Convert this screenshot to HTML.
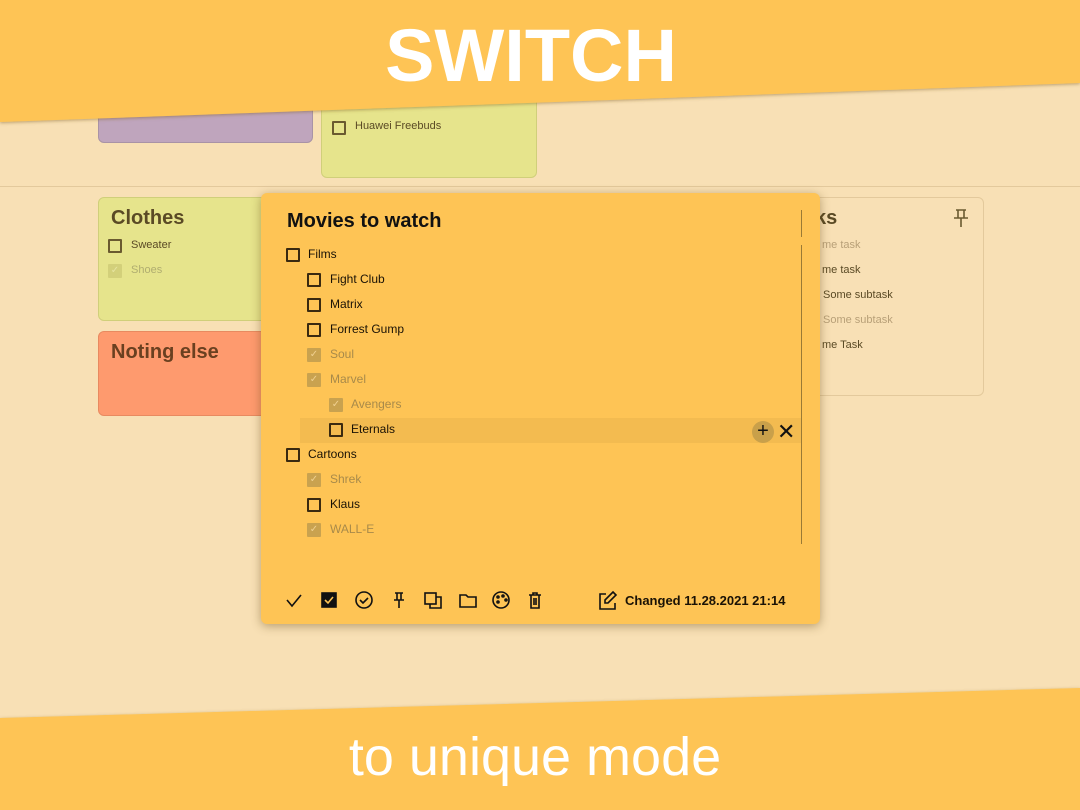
<!DOCTYPE html>
<html><head><style>
*{margin:0;padding:0;box-sizing:border-box}
body{width:1080px;height:810px;background:#F8E0B5;position:relative;overflow:hidden;font-family:"Liberation Sans","DejaVu Sans",sans-serif}
.abs{position:absolute}
.card{position:absolute;border-radius:6px}
.cb{position:absolute;width:14px;height:14px;border:2px solid #3a2a10;border-radius:1px}
.cbc{position:absolute;width:14px;height:14px;background:#c9a24f;border-radius:1px;color:#f0d090;font-size:10px;line-height:14px;text-align:center}
.t{position:absolute;font-size:12px;color:#1a1205;white-space:nowrap}
.g{color:#a88a4a}
</style></head><body>
<div class="card" style="left:98px;top:100px;width:215px;height:43px;background:#BFA5BD;border:1px solid #a993a6"></div>
<div class="card" style="left:321px;top:90px;width:216px;height:88px;background:#E6E48C;border:1px solid #d0cf7a"></div>
<div class="cb" style="left:332px;top:121px;border-color:#6a5a30"></div>
<div class="t" style="left:355px;top:120px;font-size:11px;color:#5a4a25">Huawei Freebuds</div>
<div class="abs" style="left:0;top:186px;width:1080px;height:1px;background:#e3c99c"></div>
<div class="card" style="left:98px;top:197px;width:180px;height:124px;background:#E6E48C;border:1px solid #d0cf7a"></div>
<div class="t" style="left:111px;top:207px;font-size:20px;font-weight:bold;color:#5a4a25">Clothes</div>
<div class="cb" style="left:108px;top:239px;border-color:#6a5a30"></div>
<div class="t" style="left:131px;top:239px;font-size:11px;color:#5a4a25">Sweater</div>
<div class="cbc" style="left:108px;top:264px;background:#d3d07a;color:#e6e4a0">✓</div>
<div class="t" style="left:131px;top:264px;font-size:11px;color:#b0ad70">Shoes</div>
<div class="card" style="left:98px;top:331px;width:180px;height:85px;background:#FE9A6E;border:1px solid #e88a60"></div>
<div class="t" style="left:111px;top:341px;font-size:20px;font-weight:bold;color:#6a4020">Noting else</div>
<div class="card" style="left:780px;top:197px;width:204px;height:199px;border:1px solid #e3c99c"></div>
<div class="t" style="left:815px;top:207px;font-size:20px;font-weight:bold;color:#5a4a25">ks</div>
<svg class="abs" style="left:952px;top:208px" width="18" height="22" fill="none" stroke="#6a5a30" stroke-width="1.6"><path d="M4 2h10M6 2v8h6V2M2 10h14M9 10v9"/></svg>
<div class="t" style="left:822px;top:239px;font-size:11px;color:#b8a078">me task</div>
<div class="t" style="left:822px;top:264px;font-size:11px;color:#5a4a25">me task</div>
<div class="t" style="left:823px;top:289px;font-size:11px;color:#5a4a25">Some subtask</div>
<div class="t" style="left:823px;top:314px;font-size:11px;color:#b8a078">Some subtask</div>
<div class="t" style="left:822px;top:339px;font-size:11px;color:#5a4a25">me Task</div>

<div class="card" style="left:261px;top:193px;width:559px;height:431px;background:#FEC455;box-shadow:0 2px 10px rgba(100,70,20,0.45)"></div>
<div class="abs" style="left:801px;top:210px;width:1px;height:27px;background:#9a7a35"></div>
<div class="abs" style="left:801px;top:245px;width:1px;height:299px;background:#9a7a35"></div>
<div class="t" style="left:287px;top:210px;font-size:20px;font-weight:bold;color:#111">Movies to watch</div>
<div class="abs" style="left:300px;top:418px;width:501px;height:25px;background:#f3bb50"></div>
<div class="cb" style="left:286px;top:248px"></div><div class="t" style="left:308px;top:247px">Films</div>
<div class="cb" style="left:307px;top:273px"></div><div class="t" style="left:330px;top:272px">Fight Club</div>
<div class="cb" style="left:307px;top:298px"></div><div class="t" style="left:330px;top:297px">Matrix</div>
<div class="cb" style="left:307px;top:323px"></div><div class="t" style="left:330px;top:322px">Forrest Gump</div>
<div class="cbc" style="left:307px;top:348px">✓</div><div class="t g" style="left:330px;top:347px">Soul</div>
<div class="cbc" style="left:307px;top:373px">✓</div><div class="t g" style="left:330px;top:372px">Marvel</div>
<div class="cbc" style="left:329px;top:398px">✓</div><div class="t g" style="left:351px;top:397px">Avengers</div>
<div class="cb" style="left:329px;top:423px"></div><div class="t" style="left:351px;top:422px">Eternals</div>
<div class="abs" style="left:752px;top:421px;width:22px;height:22px;border-radius:50%;background:#c9a04a;text-align:center;line-height:21px;font-size:20px;color:#111">+</div>
<div class="t" style="left:777px;top:419px;font-size:22px;color:#111">✕</div>
<div class="cb" style="left:286px;top:448px"></div><div class="t" style="left:308px;top:447px">Cartoons</div>
<div class="cbc" style="left:307px;top:473px">✓</div><div class="t g" style="left:330px;top:472px">Shrek</div>
<div class="cb" style="left:307px;top:498px"></div><div class="t" style="left:330px;top:497px">Klaus</div>
<div class="cbc" style="left:307px;top:523px">✓</div><div class="t g" style="left:330px;top:522px">WALL-E</div>
<svg class="abs" style="left:280px;top:588px" width="270" height="26" viewBox="0 0 270 26" fill="none" stroke="#111" stroke-width="1.6">
<path d="M7 12l5 6 9-11"/>
<rect x="42" y="5" width="14" height="14" fill="#111"/><path d="M45 12l3 3 5-6" stroke="#fec455"/>
<circle cx="84" cy="12" r="8"/><path d="M80 12l3 3 5-5"/>
<path d="M115 5h8M117 5v7h4V5M114 12h10M119 12v8"/>
<rect x="145" y="5" width="11" height="11"/><path d="M150 16v4h11V9h-5"/>
<path d="M180 7h6l2 2h8v10h-16z"/>
<circle cx="221" cy="12" r="8"/><circle cx="218" cy="9" r="1"/><circle cx="223" cy="8" r="1"/><circle cx="226" cy="12" r="1"/><circle cx="218" cy="14" r="1"/>
<path d="M249 7h12M253 7v-2h4v2M251 7v13h8V7M254 10v7M256 10v7"/>
</svg>
<svg class="abs" style="left:597px;top:590px" width="22" height="22" fill="none" stroke="#111" stroke-width="1.6"><path d="M9 4H3v15h15v-6"/><path d="M16 2l3 3-8 8H8v-3z"/></svg>
<div class="t" style="left:625px;top:593px;font-size:13px;font-weight:bold">Changed 11.28.2021 21:14</div>

<svg class="abs" style="left:0;top:0" width="1080" height="810">
<defs><filter id="s"><feDropShadow dx="0" dy="1" stdDeviation="1.5" flood-color="#7a5a20" flood-opacity="0.5"/></filter></defs>
<polygon points="0,0 1080,0 1080,83 0,122" fill="#FEC455" filter="url(#s)"/>
<polygon points="0,718 1080,688 1080,810 0,810" fill="#FEC455" filter="url(#s)"/>
</svg>
<div class="abs" style="left:0;top:13px;width:1062px;text-align:center;font-size:74px;font-weight:bold;color:#fff">SWITCH</div>
<div class="abs" style="left:0;top:726px;width:1070px;text-align:center;font-size:54px;color:#fff">to unique mode</div>
</body></html>
